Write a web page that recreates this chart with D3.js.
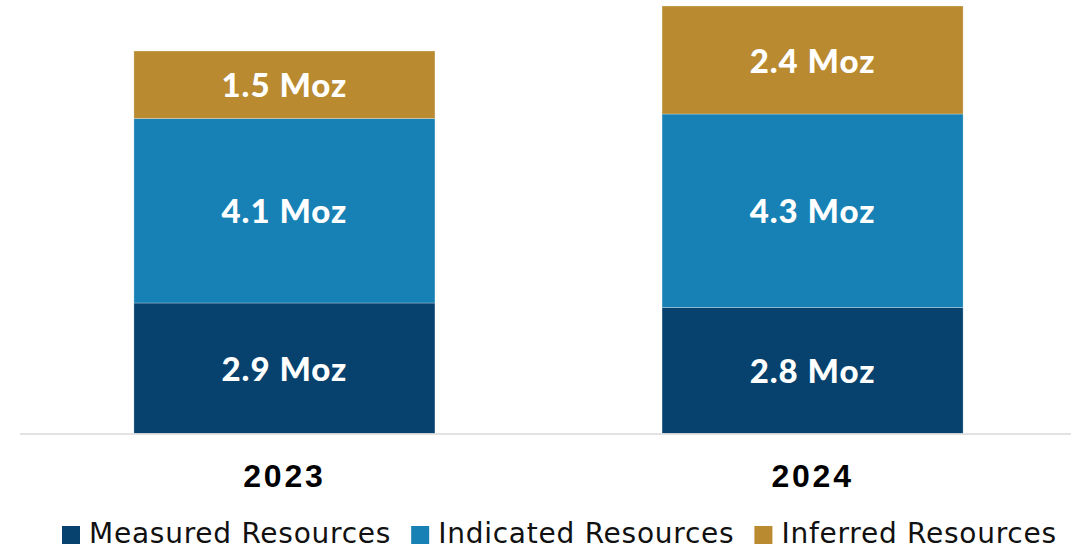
<!DOCTYPE html>
<html>
<head>
<meta charset="utf-8">
<script src="https://cdn.jsdelivr.net/npm/d3@7"></script>
<style>
  body { margin: 0; background: #fff; }
  svg { display: block; }
</style>
</head>
<body>
<div id="chart"></div>
<script>
// chart data
var years = ['2023', '2024'];
var seriesNames = ['Measured Resources', 'Indicated Resources', 'Inferred Resources'];
var measured = [2.9, 2.8];
var indicated = [4.1, 4.3];
var inferred = [1.5, 2.4];
var colors = ['#06426d', '#1781b5', '#b98a2f'];

var width = 1071, height = 550;
var baseY = 433.5;

var svg = d3.select('#chart').append('svg')
	.attr('width', width)
	.attr('height', height);

var rows = years.map(function (y, i) {
	return { year: y, measured: measured[i], indicated: indicated[i], inferred: inferred[i] };
});

var stack = d3.stack().keys(['measured', 'indicated', 'inferred']);
var layers = stack(rows);

var x = d3.scaleBand()
	.domain(years)
	.range([23, 1074])
	.paddingInner(0.43)
	.paddingOuter(0.21);

var y = d3.scaleLinear()
	.domain([0, 9.5])
	.range([baseY, 6]);

var groups = svg.selectAll('g.layer').data(layers).enter()
	.append('g')
	.attr('class', 'layer')
	.attr('fill', function (d, i) { return colors[i]; });

groups.selectAll('rect').data(function (d) { return d; }).enter()
	.append('rect')
	.attr('x', function (d) { return x(d.data.year); })
	.attr('width', x.bandwidth())
	.attr('y', function (d) { return y(d[1]); })
	.attr('height', function (d) { return y(d[0]) - y(d[1]); })
	.attr('stroke', 'rgba(255,255,255,0.35)')
	.attr('stroke-width', 0.8);

groups.selectAll('text').data(function (d) { return d; }).enter()
	.append('text')
	.attr('x', function (d) { return x(d.data.year) + x.bandwidth() / 2; })
	.attr('y', function (d) { return (y(d[0]) + y(d[1])) / 2; })
	.attr('dy', '0.38em')
	.attr('text-anchor', 'middle')
	.attr('fill', '#fff')
	.style('font-family', 'Lato, "Open Sans", sans-serif')
	.style('font-weight', 900)
	.style('font-size', '33px')
	.style('letter-spacing', '1px')
	.text(function (d) { return d3.format('.1f')(d[1] - d[0]) + ' Moz'; });

// baseline
svg.append('line')
	.attr('x1', 20).attr('x2', width)
	.attr('y1', baseY + 0.5).attr('y2', baseY + 0.5)
	.attr('stroke', '#d9d9d9')
	.attr('stroke-width', 1.5);

// year labels
var xAxis = d3.axisBottom(x).tickSize(0).tickPadding(0);
var ax = svg.append('g')
	.attr('transform', 'translate(0,' + 464 + ')')
	.call(xAxis);
ax.select('.domain').remove();
ax.selectAll('text')
	.attr('dy', '0.71em')
	.attr('fill', '#000')
	.style('font-family', '"Liberation Sans", Arial, sans-serif')
	.style('font-weight', 'bold')
	.style('font-size', '32px')
	.style('letter-spacing', '2.8px');

// legend
var legend = svg.append('g').attr('class', 'legend');
var lx = 62;
seriesNames.forEach(function (name, i) {
	var item = legend.append('g');
	item.append('rect')
		.attr('x', lx).attr('y', 526)
		.attr('width', 18).attr('height', 18)
		.attr('fill', colors[i]);
	var t = item.append('text')
		.attr('x', lx + 27)
		.attr('y', 543)
		.attr('fill', '#111')
		.style('font-family', '"DejaVu Sans", "Open Sans", sans-serif')
		.style('font-size', '28px')
		.style('letter-spacing', '0.75px')
		.text(name);
	lx += 27 + t.node().getComputedTextLength() + 20;
});
</script>
</body>
</html>
